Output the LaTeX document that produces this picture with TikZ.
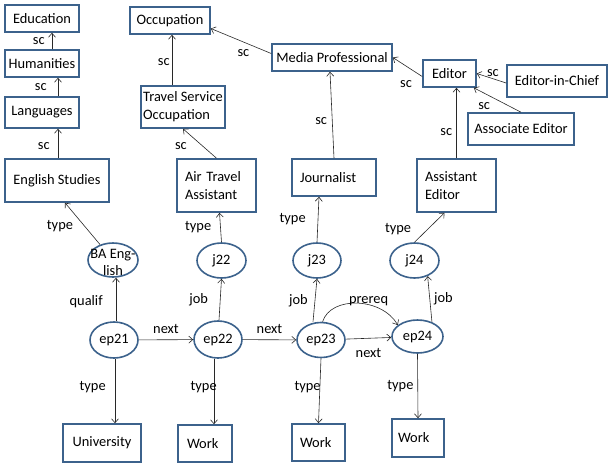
\documentclass[tikz,border=0pt]{standalone}
\usepackage{fontspec}
\setmainfont{Carlito}
\usetikzlibrary{arrows.meta, shapes.geometric, positioning}
\definecolor{boxblue}{RGB}{60,98,140}
\definecolor{edgegray}{RGB}{40,40,40}

\begin{document}
\begin{tikzpicture}[x=1pt, y=-1pt]
\tikzset{
  cls/.style={draw=boxblue, line width=1.6pt, inner sep=0pt, font=\fontsize{14.4}{17.8}\selectfont},
  ent/.style={ellipse, draw=boxblue, line width=1.6pt, inner sep=0pt, font=\fontsize{14.4}{17}\selectfont},
  rel/.style={draw=edgegray, line width=0.6pt, -{Straight Barb[length=4pt,width=7pt]}},
  lbl/.style={inner sep=0pt, font=\fontsize{14.4}{17}\selectfont}
}
\useasboundingbox (0,0) rectangle (610,466);

% classes
\node[cls, minimum width=74pt, minimum height=27pt] (edu) at (42,18.5) {Education};
\node[cls, minimum width=74pt, minimum height=27pt] (hum) at (42,63.5) {Humanities};
\node[cls, minimum width=74pt, minimum height=31pt] (lang) at (42,112.5) {Languages};
\node[cls, minimum width=104pt, minimum height=43pt] (engl) at (57,180.5) {English Studies};
\node[cls, minimum width=80pt, minimum height=27pt] (occ) at (170,20.5) {Occupation};
\node[cls, minimum width=84pt, minimum height=42pt, align=left] (tso) at (183,107) {Travel Service\\Occupation};
\node[cls, minimum width=79pt, minimum height=53pt, text width=63pt, align=left] (air) at (216.5,185.5) {Air Travel\\Assistant};
\node[cls, minimum width=84pt, minimum height=37pt, text width=68pt, align=left] (journ) at (334,177.5) {Journalist};
\node[cls, minimum width=120pt, minimum height=27pt] (media) at (332,57.5) {Media Professional};
\node[cls, minimum width=53pt, minimum height=27pt] (editor) at (449.5,73.5) {Editor};
\node[cls, minimum width=100pt, minimum height=32pt] (chief) at (557,81) {Editor-in-Chief};
\node[cls, minimum width=106pt, minimum height=32pt] (assoc) at (521,129) {Associate Editor};
\node[cls, minimum width=79pt, minimum height=53pt, text width=63pt, align=left] (asst) at (456.5,185.5) {Assistant\\Editor};
\node[cls, minimum width=78pt, minimum height=38pt] (univ) at (102,443) {University};
\node[cls, minimum width=54pt, minimum height=37pt, text width=36pt, align=left] (work1) at (205,443.5) {Work};
\node[cls, minimum width=53pt, minimum height=37pt, text width=37pt, align=left] (work2) at (318.5,442.5) {Work};
\node[cls, minimum width=52pt, minimum height=38pt, text width=40pt, align=left] (work3) at (418,438) {Work};

% instances
\node[ent, minimum width=50pt, minimum height=34pt] (ba) at (113,260) {};
\node[lbl, align=center] (batext) at (113,262.5) {BA Eng-\\lish};
\node[ent, minimum width=49pt, minimum height=35pt] (j22) at (221.5,260.5) {j22};
\node[ent, minimum width=48pt, minimum height=35pt] (j23) at (317,260.5) {j23};
\node[ent, minimum width=49pt, minimum height=35pt] (j24) at (414.5,260.5) {j24};
\node[ent, minimum width=48pt, minimum height=36pt] (ep21) at (114,340) {ep21};
\node[ent, minimum width=48pt, minimum height=37pt] (ep22) at (218,339.5) {ep22};
\node[ent, minimum width=48pt, minimum height=35pt] (ep23) at (321,340) {ep23};
\node[ent, minimum width=51pt, minimum height=33pt] (ep24) at (417.5,336.5) {ep24};

% subclass edges
\draw[rel] ([xshift=10pt]hum.north) -- node[lbl, left=7pt] {sc} ([xshift=10pt]edu.south);
\draw[rel] ([xshift=16pt]lang.north) -- node[lbl, left=11pt] {sc} ([xshift=16pt]hum.south);
\draw[rel] ([xshift=1pt]engl.north) -- node[lbl, pos=0.4, left=8pt] {sc} ([xshift=16pt]lang.south);
\draw[rel] (air.north) -- node[lbl, pos=0.4, left=16pt] {sc} (tso.south);
\draw[rel] ([xshift=-11pt]tso.north) -- node[lbl, pos=0.45, left=2pt] {sc} ([xshift=2pt]occ.south);
\draw[rel] ([yshift=4pt]media.west) -- node[lbl, pos=0.46, below=7pt] {sc} ([yshift=-8pt]occ.east);
\draw[rel] (journ.north) -- node[lbl, pos=0.43, left=5pt] {sc} ([xshift=-2pt]media.south);
\draw[rel] (asst.north) -- node[lbl, pos=0.375, left=4pt] {sc} ([xshift=7pt]editor.south);
\draw[rel] ([yshift=-3pt]editor.west) -- node[lbl, pos=0.55, below=14pt] {sc} (media.east);
\draw[rel] ([yshift=-2pt]chief.west) -- node[lbl, pos=0.45, above=2pt] {sc} (editor.east);
\draw[rel] (assoc.north) -- node[lbl, pos=0.78, below=9pt] {sc} ([xshift=-3pt]editor.south east);

% type edges
\draw[rel] (ba.130) -- node[lbl, pos=0.45, left=11pt] {type} ([xshift=8pt]engl.south);
\draw[rel] (j22.north) -- node[lbl, left=9pt] {type} ([xshift=3pt]air.south);
\draw[rel] (j23.north) -- node[lbl, left=12pt] {type} ([xshift=-15pt]journ.south);
\draw[rel] (j24.north) -- node[lbl, pos=0.43, left=16pt] {type} ([xshift=-12pt]asst.south);
\draw[rel] ([xshift=1pt]ep21.south) -- node[lbl, pos=0.44, left=9pt] {type} ([xshift=13pt]univ.north);
\draw[rel] ([xshift=-4pt]ep22.south) -- node[lbl, pos=0.44, left=-3pt] {type} ([xshift=9pt]work1.north);
\draw[rel] (ep23.south) -- node[lbl, pos=0.44, left=-1pt] {type} (work2.north);
\draw[rel] (ep24.south) -- node[lbl, pos=0.5, left=4pt] {type} (work3.north);

% episode edges
\draw[rel] ([xshift=2pt]ep21.north) -- node[lbl, pos=0.45, left=13pt] {qualif} ([xshift=3pt]ba.south);
\draw[rel] ([xshift=1pt]ep22.north) -- node[lbl, left=12pt] {job} (j22.south);
\draw[rel] ([xshift=-8pt]ep23.north) -- node[lbl, left=7pt] {job} (j23.south);
\draw[rel] (ep24.45) -- node[lbl, right=4pt] {job} (j24.-50);
\draw[rel] (ep21) -- node[lbl, above=6pt] {next} (ep22);
\draw[rel] (ep22) -- node[lbl, above=6pt] {next} (ep23);
\draw[rel] (ep23) -- node[lbl, below=10pt] {next} (ep24);
\draw[rel] (ep23.85) .. controls +(8,-26) and +(-16,-28) .. (ep24.150)
  node[lbl, pos=0.62, above=-1pt] {prereq};
\end{tikzpicture}
\end{document}
